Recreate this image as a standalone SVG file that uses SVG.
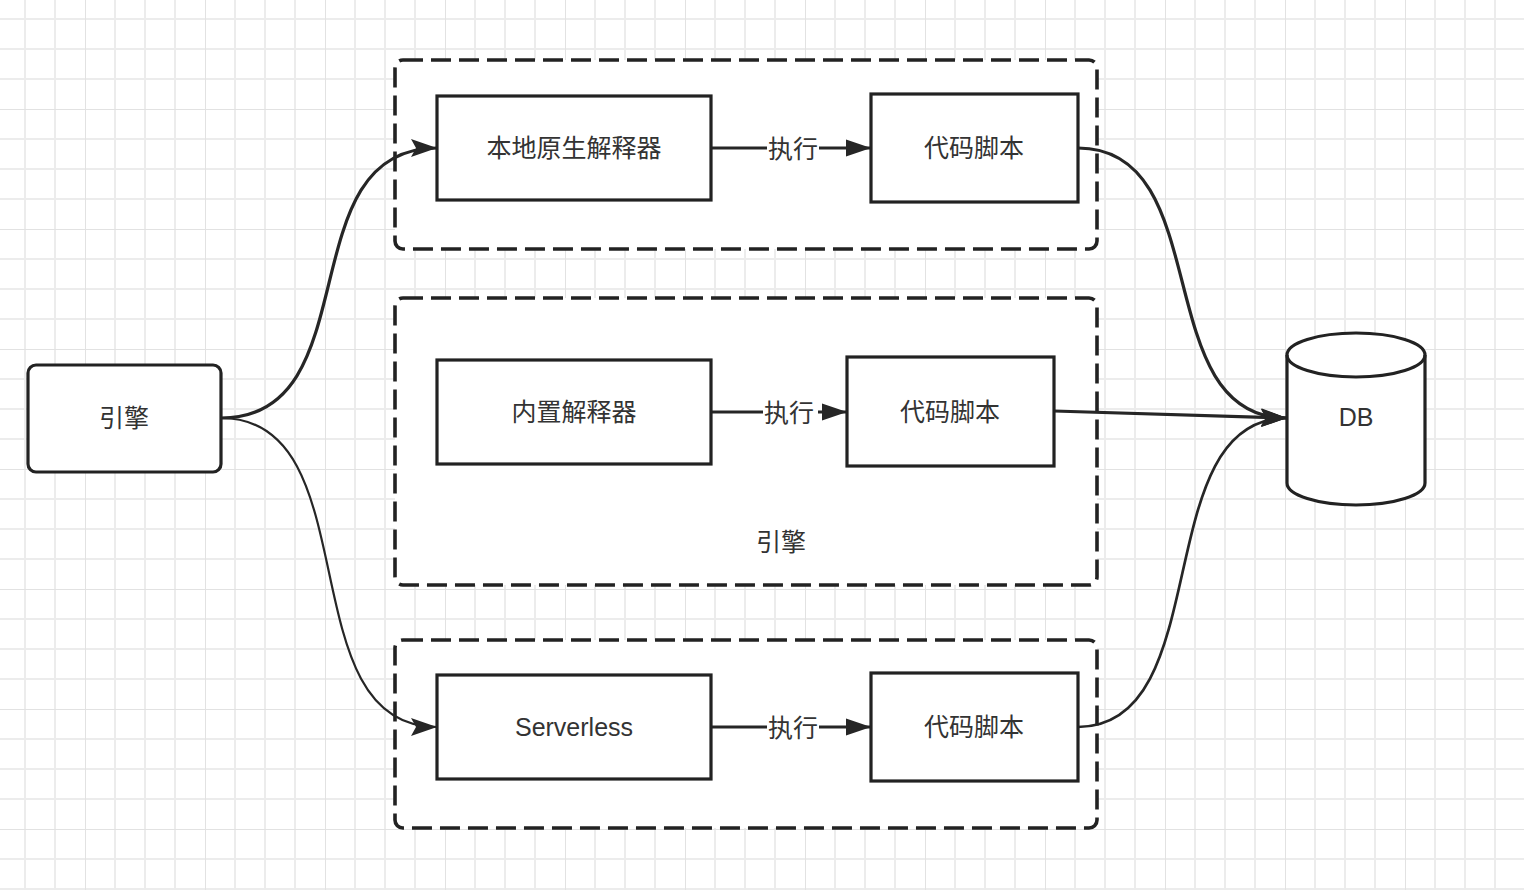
<svg xmlns="http://www.w3.org/2000/svg" width="1524" height="890" viewBox="0 0 1524 890">
<style>
.box{fill:#fff;stroke:#222;stroke-width:3.2}
.grp{fill:#fff;stroke:#222;stroke-width:3.6;stroke-dasharray:20 8}
.lbl{font-family:"Liberation Sans","Noto Sans CJK SC",sans-serif;font-size:25px;fill:#333;text-anchor:middle;dominant-baseline:central}
.edge{fill:none;stroke:#262626;stroke-width:3.2}
.elbl{fill:#fff}
</style>
<defs>
<pattern id="grid" x="85" y="109" width="120" height="120" patternUnits="userSpaceOnUse">
<path d="M30 0V120M60 0V120M90 0V120M0 30H120M0 60H120M0 90H120" stroke="#ececec" stroke-width="2" fill="none"/>
<path d="M0 0V120M0 0H120" stroke="#e2e2e2" stroke-width="2" fill="none"/>
</pattern>
<marker id="arr" markerUnits="userSpaceOnUse" markerWidth="27" markerHeight="20" refX="26" refY="9" orient="auto" viewBox="0 0 27 18">
<path d="M0 0L26 9L0 18L5 9Z" fill="#262626"/>
</marker>
<marker id="arrs" markerUnits="userSpaceOnUse" markerWidth="26" markerHeight="20" refX="25" refY="8.5" orient="auto" viewBox="0 0 26 17">
<path d="M0 0L25 8.5L0 17Z" fill="#262626"/>
</marker>
</defs>
<rect width="1524" height="890" fill="#fff"/>
<rect width="1524" height="890" fill="url(#grid)"/>

<g id="group-native"><rect class="grp" x="395" y="60" width="702" height="189" rx="8"/></g>
<g id="group-engine"><rect class="grp" x="395" y="298" width="702" height="287" rx="8"/>
<text class="lbl" x="781" y="542">引擎</text></g>
<g id="group-serverless"><rect class="grp" x="395" y="640" width="702" height="188" rx="8"/></g>

<g id="connectors">
<path class="edge" d="M221 418C371 418 287 148 437 148" marker-end="url(#arr)"/>
<path class="edge" style="stroke-width:2.2" d="M221 418C371 418 287 727 437 727" marker-end="url(#arr)"/>
<path class="edge" d="M1078 148C1218 148 1147 418 1287 418" marker-end="url(#arr)"/>
<path class="edge" d="M1054 411L1287 418" marker-end="url(#arr)"/>
<path class="edge" style="stroke-width:2.7" d="M1078 727C1218 727 1147 418 1287 418" marker-end="url(#arr)"/>
<path class="edge" d="M711 148H871" marker-end="url(#arrs)"/>
<path class="edge" d="M711 412H847" marker-end="url(#arrs)"/>
<path class="edge" d="M711 727H871" marker-end="url(#arrs)"/>
<rect class="elbl" x="767" y="134" width="52" height="30"/>
<text class="lbl" x="793" y="149">执行</text>
<rect class="elbl" x="763" y="398" width="55" height="30"/>
<text class="lbl" x="789" y="413">执行</text>
<rect class="elbl" x="767" y="713" width="52" height="30"/>
<text class="lbl" x="793" y="728">执行</text>
</g>

<g id="engine"><rect class="box" x="28" y="365" width="193" height="107" rx="8"/>
<text class="lbl" x="124" y="418">引擎</text></g>

<g id="native-interpreter"><rect class="box" x="437" y="96" width="274" height="104"/>
<text class="lbl" x="574" y="148">本地原生解释器</text></g>
<g id="script-1"><rect class="box" x="871" y="94" width="207" height="108"/>
<text class="lbl" x="974" y="148">代码脚本</text></g>

<g id="builtin-interpreter"><rect class="box" x="437" y="360" width="274" height="104"/>
<text class="lbl" x="574" y="412">内置解释器</text></g>
<g id="script-2"><rect class="box" x="847" y="357" width="207" height="109"/>
<text class="lbl" x="950" y="412">代码脚本</text></g>

<g id="serverless"><rect class="box" x="437" y="675" width="274" height="104"/>
<text class="lbl" x="574" y="727">Serverless</text></g>
<g id="script-3"><rect class="box" x="871" y="673" width="207" height="108"/>
<text class="lbl" x="974" y="727">代码脚本</text></g>

<g id="db">
<path class="box" d="M1287 355V483A69 22 0 0 0 1425 483V355A69 22 0 0 0 1287 355Z"/>
<path d="M1287 355A69 22 0 0 0 1425 355" fill="none" stroke="#222" stroke-width="3.2"/>
<text class="lbl" x="1356" y="417">DB</text>
</g>
</svg>
